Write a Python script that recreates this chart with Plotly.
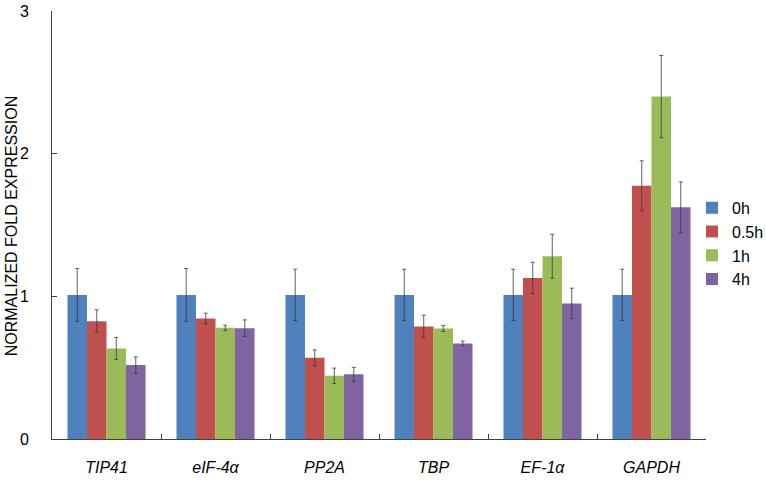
import plotly.graph_objects as go

categories = ["TIP41", "eIF-4α", "PP2A", "TBP", "EF-1α", "GAPDH"]
series_names = ["0h", "0.5h", "1h", "4h"]

vals_0h = [1.01, 1.01, 1.01, 1.01, 1.01, 1.01]
vals_05h = [0.826, 0.845, 0.569, 0.789, 1.129, 1.775]
vals_1h = [0.635, 0.779, 0.443, 0.775, 1.281, 2.40]
vals_4h = [0.518, 0.777, 0.453, 0.670, 0.950, 1.624]

err_0h = [0.185, 0.185, 0.18, 0.18, 0.18, 0.18]
err_05h = [0.08, 0.037, 0.056, 0.078, 0.11, 0.175]
err_1h = [0.077, 0.019, 0.054, 0.021, 0.154, 0.288]
err_4h = [0.058, 0.058, 0.049, 0.016, 0.107, 0.178]

y_title = "NORMALIZED FOLD EXPRESSION"

colors = ["#4F81BD", "#C0504D", "#9BBB59", "#8064A2"]

values = [vals_0h, vals_05h, vals_1h, vals_4h]
errors = [err_0h, err_05h, err_1h, err_4h]

FONT = "Arial, Liberation Sans, sans-serif"

fig = go.Figure()
for name, v, e, c in zip(series_names, values, errors, colors):
    fig.add_trace(go.Bar(
        name=name, x=categories, y=v, marker_color=c, marker_line_width=0,
        error_y=dict(type="data", array=e, visible=True, color="#3a3a3a",
                     thickness=0.8, width=2),
    ))

fig.update_layout(
    barmode="group", bargap=0.284, bargroupgap=0,
    width=766, height=481,
    margin=dict(l=52, r=60, t=11, b=42, autoexpand=False),
    plot_bgcolor="white", paper_bgcolor="white",
    font=dict(family=FONT, size=16, color="#000000"),
    legend=dict(x=0.9786, y=0.580, xanchor="left", yanchor="top",
                font=dict(size=16), bgcolor="rgba(0,0,0,0)"),
    xaxis=dict(showline=True, linecolor="#404040", linewidth=1,
               ticks="inside", ticklen=5, tickcolor="#404040",
               tickson="boundaries", ticklabelstandoff=14, automargin=False,
               tickfont=dict(size=16, style="italic"), showgrid=False),
    yaxis=dict(range=[0, 3], tickvals=[0, 1, 2, 3], showline=True,
               linecolor="#404040", linewidth=1, ticks="inside", ticklen=5,
               tickcolor="#404040", showgrid=False, zeroline=False,
               automargin=False,
               ticklabelstandoff=19, tickfont=dict(size=16)),
    annotations=[dict(text=y_title, textangle=-90, xref="paper", yref="paper",
                      x=0, y=0.497, xshift=-41, xanchor="center", yanchor="middle",
                      showarrow=False, font=dict(size=16))],
)

# remove the browser's default 8px page margin so the figure sits at the window's corner
fig.write_html("out.html", config={"displayModeBar": False},
               post_script="document.body.style.margin='0';document.body.style.overflow='hidden';")
